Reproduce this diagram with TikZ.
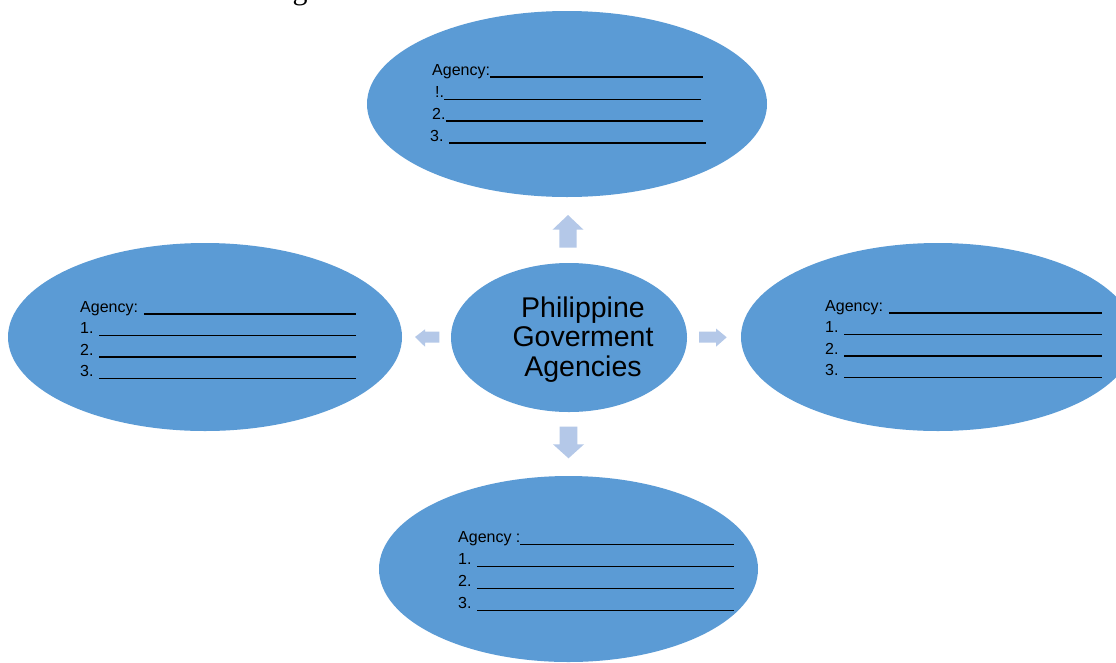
\documentclass[tikz,border=0pt]{standalone}
\usepackage{fontspec}
\setmainfont{Liberation Sans}
\newfontfamily\serifg{Liberation Serif}
\usetikzlibrary{shapes.geometric}
\definecolor{ellblue}{HTML}{5B9BD5}
\definecolor{arrblue}{HTML}{B4C8E8}
\newcommand\ufill{\leaders\hrule height -1.3pt depth 2.5pt\hfill}
\tikzset{
  bubble/.style={ellipse, fill=ellblue, draw=none, inner sep=0pt},
  rowtext/.style={anchor=base west, inner sep=0pt, font=\fontsize{16}{19}\selectfont, text=black},
  blockarrow/.style={fill=arrblue, draw=none},
}
\begin{document}
\begin{tikzpicture}[x=1pt,y=-1pt]
\useasboundingbox (0,0) rectangle (1116,662);
\clip (0,0) rectangle (1116,662);
\fill[white] (0,0) rectangle (1116,662);

% cut-off serif letter at the top
\node[anchor=base, inner sep=0pt, font=\serifg\fontsize{30}{30}\selectfont] (gtop) at (300,-0.5) {g};

% ellipses
\node[bubble, minimum width=400pt, minimum height=186pt] (top) at (567,104) {};
\node[bubble, minimum width=394pt, minimum height=188pt] (left) at (205,337) {};
\node[bubble, minimum width=394pt, minimum height=188pt] (right) at (938,337) {};
\node[bubble, minimum width=379pt, minimum height=186pt] (bottom) at (568.5,569) {};
\node[bubble, minimum width=236pt, minimum height=149pt] (center) at (569,337.5) {};

% central text
\node[inner sep=0pt, align=center, font=\fontsize{28.5}{29.8}\selectfont] (ctext) at (583,339.5) {Philippine\\Goverment\\Agencies};

% top rows
\node[rowtext] (t0) at (432,75) {\hbox to 271pt{Agency:\ufill}};
\node[rowtext] (t1) at (435,97.3) {\hbox to 266pt{!.\ufill}};
\node[rowtext] (t2) at (432,119) {\hbox to 271pt{2.\ufill}};
\node[rowtext] (t3) at (430,141) {\hbox to 276pt{3. \ufill}};

% left rows
\node[rowtext] (l0) at (80,312) {\hbox to 276pt{Agency: \ufill}};
\node[rowtext] (l1) at (80,333.5) {\hbox to 276pt{1. \ufill}};
\node[rowtext] (l2) at (80,355) {\hbox to 276pt{2. \ufill}};
\node[rowtext] (l3) at (80,376.5) {\hbox to 276pt{3. \ufill}};

% right rows
\node[rowtext] (r0) at (825,311) {\hbox to 277pt{Agency: \ufill}};
\node[rowtext] (r1) at (825,332.5) {\hbox to 277pt{1. \ufill}};
\node[rowtext] (r2) at (825,354) {\hbox to 277pt{2. \ufill}};
\node[rowtext] (r3) at (825,375.5) {\hbox to 277pt{3. \ufill}};

% bottom rows
\node[rowtext] (b0) at (458,542.3) {\hbox to 276pt{Agency :\ufill}};
\node[rowtext] (b1) at (458,564.3) {\hbox to 276pt{1. \ufill}};
\node[rowtext] (b2) at (458,586.5) {\hbox to 276pt{2. \ufill}};
\node[rowtext] (b3) at (458,608.3) {\hbox to 276pt{3. \ufill}};

% block arrows
\fill[blockarrow] (568,215) -- (583.3,229.5) -- (576.7,229.5) -- (576.7,247.7) -- (559.3,247.7) -- (559.3,229.5) -- (552.7,229.5) -- cycle;
\fill[blockarrow] (568.5,458.3) -- (584,444.3) -- (577.3,444.3) -- (577.3,426.7) -- (559.7,426.7) -- (559.7,444.3) -- (553,444.3) -- cycle;
\fill[blockarrow] (415,337) -- (425,329.3) -- (425,331.7) -- (439.3,331.7) -- (439.3,342.7) -- (425,342.7) -- (425,346.7) -- cycle;
\fill[blockarrow] (726.7,337.3) -- (716,328.5) -- (716,331.7) -- (699,331.7) -- (699,342.7) -- (716,342.7) -- (716,346.7) -- cycle;
\end{tikzpicture}
\end{document}
